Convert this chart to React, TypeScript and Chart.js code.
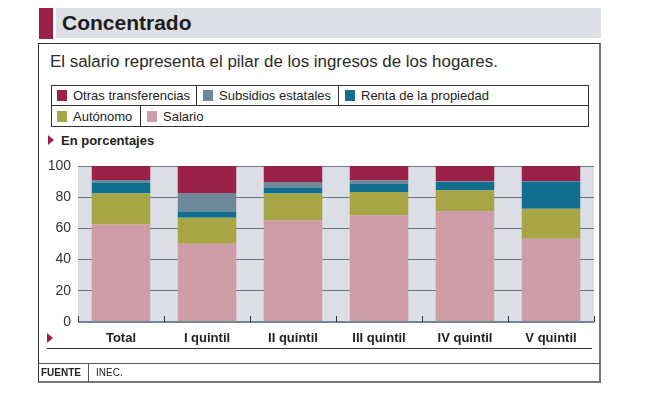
import React, { useEffect, useRef } from "react";
import { Chart, registerables } from "chart.js";

Chart.register(...registerables);

const categories = ["Total", "I quintil", "II quintil", "III quintil", "IV quintil", "V quintil"];
const salario = [62.5, 50.2, 65.2, 68.4, 71.0, 53.4];
const autonomo = [20.0, 16.7, 17.1, 15.0, 13.5, 19.2];
const renta = [7.0, 4.0, 3.6, 5.3, 5.3, 17.5];
const subsidios = [1.5, 11.8, 3.8, 2.1, 0.5, 0.3];
const otras = [9.0, 17.3, 10.3, 9.2, 9.7, 9.6];
const yTicks = [0, 20, 40, 60, 80, 100];

const COLORS = {
  otras: "#9c2149",
  subsidios: "#6e8799",
  renta: "#136f90",
  autonomo: "#a6a647",
  salario: "#cd9ca6",
};

const FONT = "'Liberation Sans', Arial, sans-serif";

const bgPlugin = {
  id: "bgPlugin",
  beforeDraw(chart: any) {
    const { ctx, chartArea } = chart;
    ctx.save();
    ctx.fillStyle = "#dcdee5";
    ctx.fillRect(chartArea.left, chartArea.top, chartArea.right - chartArea.left, chartArea.bottom - chartArea.top);
    ctx.restore();
  },
  afterDatasetsDraw(chart: any) {
    const { ctx, chartArea, scales } = chart;
    const y0 = scales.y.getPixelForValue(0);
    ctx.save();
    ctx.strokeStyle = "#6f8698";
    ctx.lineWidth = 2;
    ctx.beginPath();
    ctx.moveTo(chartArea.left, y0);
    ctx.lineTo(chartArea.right, y0);
    ctx.stroke();
    ctx.strokeStyle = "#333";
    ctx.lineWidth = 1;
    const n = categories.length;
    for (let i = 0; i <= n; i++) {
      const x = i < n
        ? scales.x.getPixelForValue(i) - (scales.x.getPixelForValue(1) - scales.x.getPixelForValue(0)) / 2
        : chartArea.right;
      const xx = Math.round(x) + 0.5;
      ctx.beginPath();
      ctx.moveTo(xx, y0);
      ctx.lineTo(xx, y0 - 6);
      ctx.stroke();
    }
    ctx.restore();
  },
};

function ChartCanvas() {
  const ref = useRef<HTMLCanvasElement | null>(null);
  useEffect(() => {
    if (!ref.current) return;
    const mk = (label: string, data: number[], color: string) => ({
      label,
      data,
      backgroundColor: color,
      borderWidth: 0,
      barPercentage: 0.68,
      categoryPercentage: 1,
    });
    const chart = new Chart(ref.current, {
      type: "bar",
      data: {
        labels: categories,
        datasets: [
          mk("Salario", salario, COLORS.salario),
          mk("Autónomo", autonomo, COLORS.autonomo),
          mk("Renta de la propiedad", renta, COLORS.renta),
          mk("Subsidios estatales", subsidios, COLORS.subsidios),
          mk("Otras transferencias", otras, COLORS.otras),
        ],
      },
      options: {
        animation: false,
        responsive: false,
        maintainAspectRatio: false,
        layout: { padding: { top: 16, right: 6, left: 0, bottom: 0 } },
        plugins: { legend: { display: false }, tooltip: { enabled: false } },
        scales: {
          x: {
            stacked: true,
            grid: { display: false, drawTicks: false },
            border: { display: false },
            ticks: {
              padding: 9,
              color: "#222",
              font: { family: FONT, size: 13, weight: "bold" },
            },
            afterFit(scale: any) {
              scale.height = 28;
            },
          },
          y: {
            stacked: true,
            min: 0,
            max: 100,
            afterBuildTicks(scale: any) {
              scale.ticks = yTicks.map((v) => ({ value: v }));
            },
            grid: {
              color: (c: any) => (c.tick && c.tick.value === 0 ? "rgba(0,0,0,0)" : "#6d7581"),
              lineWidth: 1,
              drawTicks: false,
            },
            border: { display: false },
            ticks: {
              padding: 7,
              color: "#333",
              font: { family: FONT, size: 14 },
            },
            afterFit(scale: any) {
              scale.width = 38;
            },
          },
        },
      },
      plugins: [bgPlugin],
    } as any);
    return () => chart.destroy();
  }, []);
  return (
    <canvas
      ref={ref}
      width={560}
      height={200}
      style={{ position: "absolute", left: 40, top: 150, width: 560, height: 200 }}
    />
  );
}

const abs = (s: React.CSSProperties): React.CSSProperties => ({ position: "absolute", ...s });

function Swatch({ color }: { color: string }) {
  return <span style={{ display: "inline-block", width: 10, height: 11, background: color, marginRight: 6, verticalAlign: "-1px" }} />;
}

export default function App() {
  const cell = (left: number, top: number, width: number, label: string, color: string, borderLeft = true) => (
    <div
      style={abs({
        left,
        top,
        width,
        height: 21,
        boxSizing: "border-box",
        borderLeft: borderLeft ? "1px solid #333" : "none",
        paddingLeft: 6,
        lineHeight: "21px",
        fontSize: 13,
        color: "#222",
        whiteSpace: "nowrap",
      })}
    >
      <Swatch color={color} />
      {label}
    </div>
  );
  return (
    <div style={{ position: "fixed", left: 0, top: 0, width: 653, height: 398, background: "#fff", fontFamily: FONT, overflow: "hidden" }}>
      <div style={abs({ left: 39, top: 8, width: 14, height: 31, background: "#9c1f49" })} />
      <div style={abs({ left: 56, top: 8, width: 545, height: 30, background: "#dcdfe5" })} />
      <div style={abs({ left: 62, top: 8, height: 30, lineHeight: "30px", fontSize: 21, fontWeight: "bold", color: "#1e1e1e" })}>Concentrado</div>
      <div style={abs({ left: 38, top: 43, width: 563, height: 340, boxSizing: "border-box", borderLeft: "1px solid #333", borderTop: "1px solid #333", borderRight: "2px solid #777", borderBottom: "2px solid #777" })} />
      <div style={abs({ left: 50, top: 51, fontSize: 16.9, lineHeight: "22px", color: "#2a2a2a", whiteSpace: "nowrap" })}>
        El salario representa el pilar de los ingresos de los hogares.
      </div>
      <div style={abs({ left: 51, top: 85, width: 538, height: 42, boxSizing: "border-box", border: "1px solid #333" })} />
      <div style={abs({ left: 51, top: 105, width: 538, height: 1, background: "#333" })} />
      {cell(51, 85, 146, "Otras transferencias", COLORS.otras, false)}
      {cell(196, 85, 143, "Subsidios estatales", COLORS.subsidios)}
      {cell(338, 85, 250, "Renta de la propiedad", COLORS.renta)}
      {cell(51, 106, 90, "Autónomo", COLORS.autonomo, false)}
      {cell(140, 106, 200, "Salario", COLORS.salario)}
      <div style={abs({ left: 48, top: 135, width: 0, height: 0, borderTop: "5px solid transparent", borderBottom: "5px solid transparent", borderLeft: "6px solid #9c1f49" })} />
      <div style={abs({ left: 61, top: 132, fontSize: 13, fontWeight: "bold", lineHeight: "18px", color: "#222" })}>En porcentajes</div>
      <ChartCanvas />
      <div style={abs({ left: 47, top: 333, width: 0, height: 0, borderTop: "5px solid transparent", borderBottom: "5px solid transparent", borderLeft: "6px solid #9c1f49" })} />
      <div style={abs({ left: 47, top: 348, width: 545, height: 1, background: "#333" })} />
      <div style={abs({ left: 38, top: 363, width: 562, height: 1, background: "#555" })} />
      <div style={abs({ left: 88, top: 363, width: 1, height: 19, background: "#555" })} />
      <div style={abs({ left: 41, top: 365, fontSize: 10, fontWeight: "bold", lineHeight: "16px", color: "#222" })}>FUENTE</div>
      <div style={abs({ left: 96, top: 365, fontSize: 10, lineHeight: "16px", color: "#222" })}>INEC.</div>
    </div>
  );
}
